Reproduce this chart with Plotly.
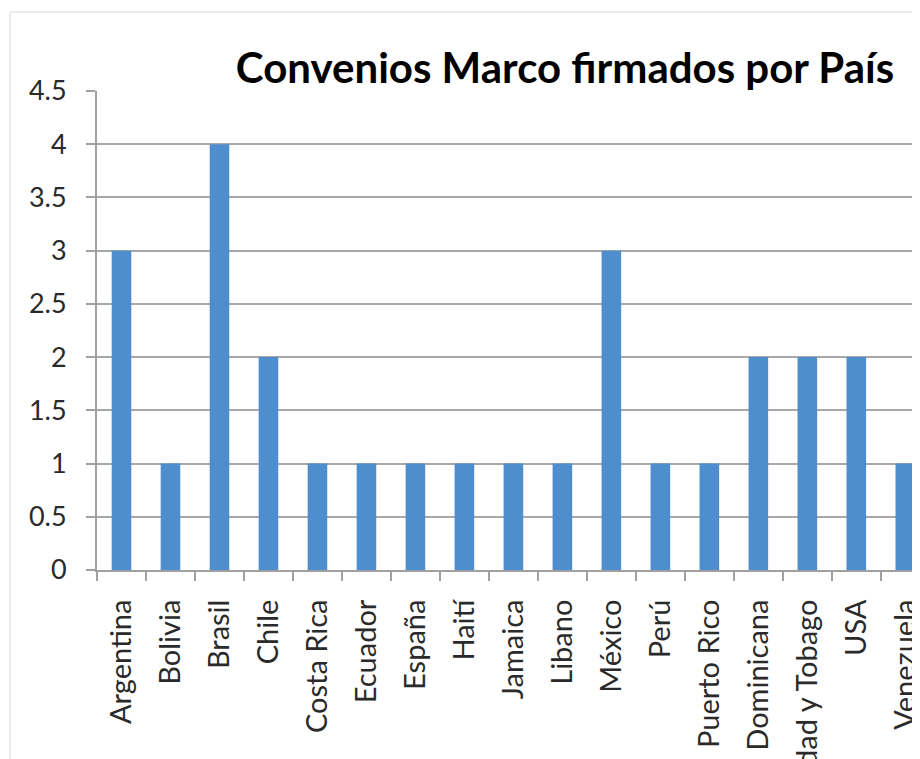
import plotly.graph_objects as go

countries = ["Argentina", "Bolivia", "Brasil", "Chile", "Costa Rica", "Ecuador", "España",
             "Haití", "Jamaica", "Libano", "México", "Perú", "Puerto Rico",
             "República Dominicana", "Trinidad y Tobago", "USA", "Venezuela"]
convenios = [3, 1, 4, 2, 1, 1, 1, 1, 1, 1, 3, 1, 1, 2, 2, 2, 1]
y_ticks = [0, 0.5, 1, 1.5, 2, 2.5, 3, 3.5, 4, 4.5]
y_tick_labels = ["0", "0.5", "1", "1.5", "2", "2.5", "3", "3.5", "4", "4.5"]

W, H = 912, 751          # page body adds an 8px offset
L, T, B = 89, 83, 189
PW, PH = W - L, H - T - B

fig = go.Figure(go.Bar(x=countries, y=convenios, marker=dict(color="#4e8ecf", line=dict(width=0))))

fig.update_layout(
    width=W, height=H,
    paper_bgcolor="white", plot_bgcolor="white",
    margin=dict(l=L, r=0, t=T, b=B, pad=0),
    bargap=0.6,
    showlegend=False,
    title=dict(text="<b>Convenios Marco firmados por País</b>", x=557 / W, xanchor="center",
               y=1 - 60 / H, yanchor="middle",
               font=dict(family="Lato", size=42, color="black")),
    font=dict(family="Lato", color="#222"),
)
# faint chart-area border (top and left edges)
ytop = (PH + T - 4) / PH
xleft = (2 - L) / PW
fig.add_shape(type="line", xref="paper", yref="paper",
              x0=xleft, x1=1.0, y0=ytop, y1=ytop,
              line=dict(color="#ececec", width=2))
fig.add_shape(type="line", xref="paper", yref="paper",
              x0=xleft, x1=xleft, y0=ytop, y1=-B / PH,
              line=dict(color="#ececec", width=2))
fig.update_xaxes(
    type="category", range=[-0.5, 16.3], automargin=False,
    showline=True, linecolor="#a0a0a0", linewidth=2,
    ticks="outside", tickson="boundaries", ticklen=9, tickcolor="#a0a0a0", tickwidth=2,
    tickangle=-90, tickfont=dict(size=29, family="Lato", color="#2a2a2a"),
    ticklabelstandoff=16,
    showgrid=False,
)
fig.update_yaxes(
    range=[0, 4.5], tickvals=y_ticks, ticktext=y_tick_labels, automargin=False,
    showline=True, linecolor="#a0a0a0", linewidth=2,
    ticks="outside", ticklen=9, tickcolor="#a0a0a0", tickwidth=2,
    showgrid=True, gridcolor="#a8a8a8", gridwidth=2,
    tickfont=dict(size=27, family="Lato", color="#2a2a2a"),
    ticklabelstandoff=14,
    zeroline=False,
)
fig.write_html("out.html")
